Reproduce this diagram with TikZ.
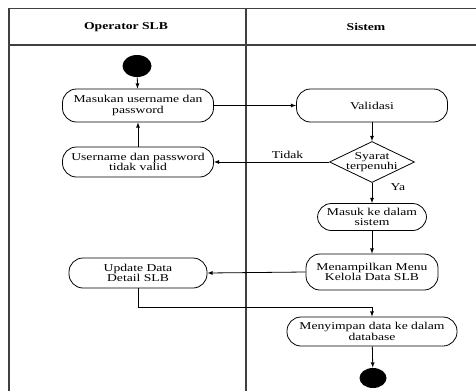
\documentclass[tikz,border=0pt]{standalone}
\usepackage{fontspec}
\setmainfont{Liberation Serif}[FakeStretch=1.3]
\usetikzlibrary{shapes.geometric}

\tikzstyle{lane} = [draw=black!75,line width=1.2pt]
\tikzstyle{lanetitle} = [font=\fontsize{10.5}{11}\selectfont\bfseries]
\tikzstyle{activity} = [draw,rounded corners=14pt,line width=0.8pt,align=center,inner sep=0pt,font=\fontsize{10.5}{10.7}\selectfont]
\tikzstyle{decision} = [draw,diamond,line width=0.8pt,inner sep=0pt,minimum width=85pt,minimum height=41pt]
\tikzstyle{dot} = [ellipse,fill=black,inner sep=0pt]
\tikzstyle{edgelabel} = [font=\fontsize{10.5}{10.7}\selectfont]

\begin{document}
\begin{tikzpicture}[x=1pt,y=-1pt,line width=0.8pt]
	\useasboundingbox (0,0) rectangle (476,391);
	% swimlanes
	\draw[lane] (476,8.5) -- (9,8.5) -- (9,391);
	\draw[lane] (9,45) -- (476,45);
	\draw[lane] (246,8.5) -- (246,391);
	\node[lanetitle] (opr) at (126,27) {Operator SLB};
	\node[lanetitle] (sys) at (366,27) {Sistem};
	% nodes
	\node[dot,minimum width=29pt,minimum height=22pt] (start) at (137,66) {};
	\node[activity,minimum width=151pt,minimum height=33pt] (login) at (138,105.5) {Masukan username dan\\password};
	\node[activity,minimum width=151pt,minimum height=33pt] (valid) at (372,105.5) {Validasi};
	\node[activity,minimum width=151pt,minimum height=30pt] (fail) at (138,162) {Username dan password\\tidak valid};
	\node[decision,label={[edgelabel,align=center]center:Syarat\\terpenuhi}] (cek) at (372,162) {};
	\node[activity,minimum width=109pt,minimum height=27pt] (masuk) at (372,217) {Masuk ke dalam\\sistem};
	\node[activity,minimum width=132pt,minimum height=36pt] (menu) at (372,272) {Menampilkan Menu\\Kelola Data SLB};
	\node[activity,minimum width=138pt,minimum height=30pt] (update) at (138,273) {Update Data\\Detail SLB};
	\node[activity,minimum width=170pt,minimum height=29pt] (simpan) at (372,331.5) {Menyimpan data ke dalam\\database};
	\node[dot,minimum width=27pt,minimum height=20pt] (end) at (373,378) {};
	\coordinate (join) at (372,307);
	% edges
	\draw[->,>=latex] (start) -- (login);
	\draw[->,>=latex] (login) -- (valid);
	\draw[->,>=latex] (valid) -- (cek);
	\draw[->,>=latex] (cek.west) -- node[edgelabel,pos=0.36,above]{Tidak} (fail.east);
	\draw[->,>=latex] (fail) -- (login);
	\draw[->,>=latex] (cek.south) -- node[edgelabel,pos=0.2,right,xshift=15pt]{Ya} (masuk);
	\draw[->,>=latex] (masuk) -- (menu);
	\draw[->,>=latex] (menu.west) -- (update.east);
	\draw[->,>=latex] (update.south) |- (join) -- (simpan.north);
	\draw[->,>=latex] (simpan) -- (end);
\end{tikzpicture}
\end{document}
